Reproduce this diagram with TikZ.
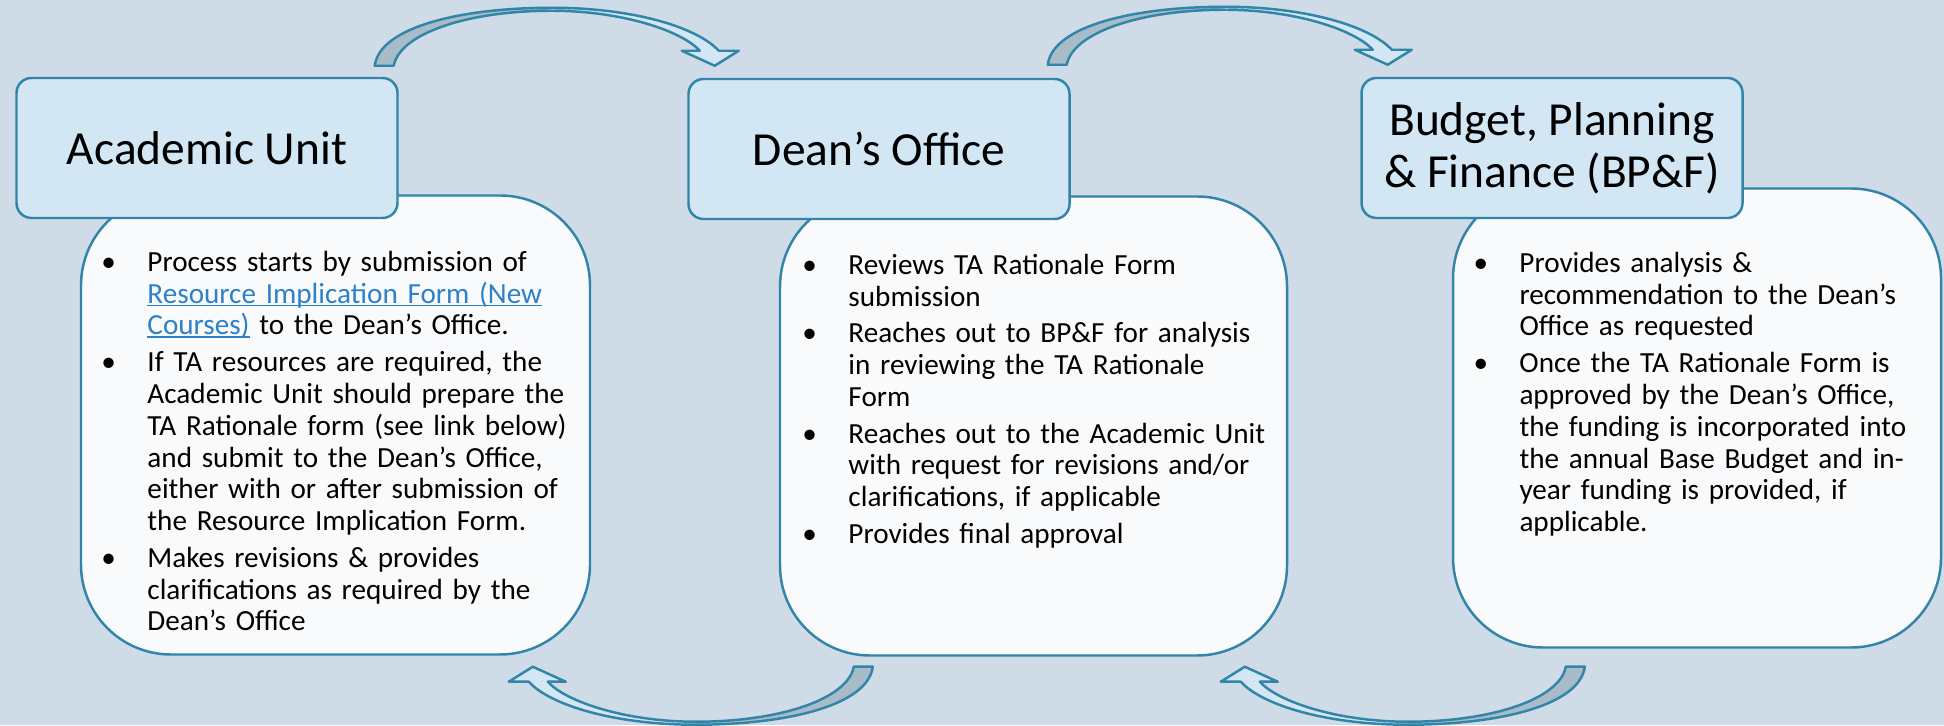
\documentclass[tikz,border=0pt]{standalone}
\usepackage{fontspec}
\setmainfont{Carlito}
\usetikzlibrary{calc}

\definecolor{sky}{RGB}{207,219,230}
\definecolor{capfill}{RGB}{210,230,244}
\definecolor{rim}{RGB}{49,133,168}
\definecolor{paper}{RGB}{249,250,252}
\definecolor{fold}{RGB}{168,187,200}
\definecolor{linkblue}{RGB}{46,128,200}

\newcommand\bitem{\noindent\hangindent=0.46cm\hangafter=1\makebox[0.46cm][l]{\textbullet}}
\newcommand\bgap{\par\vspace{1.4pt}}
\newcommand\lnk[1]{\textcolor{linkblue}{\setbox0=\hbox{#1}\rlap{\rule[-0.8pt]{\wd0}{0.35pt}}#1}}

\begin{document}
\begin{tikzpicture}[
  x=1cm, y=1cm,
  hdr/.style={draw=rim, fill=capfill, line width=0.7pt, rounded corners=0.15cm,
              minimum width=3.81cm, minimum height=1.40cm, inner sep=0pt,
              align=center, font=\fontsize{13.5}{14.8}\selectfont},
  bodybox/.style={draw=rim, fill=paper, line width=0.7pt, rounded corners=0.9cm,
                  minimum height=4.59cm, inner sep=0pt},
  txt/.style={anchor=base west, inner sep=0pt, text width=5cm, align=left,
              font=\fontsize{8.3}{9.05}\selectfont},
  ribbon/.pic={
    \fill[fold] (-0.19,0) .. controls (-0.14,0.39) and (0.68,0.58) .. (1.58,0.58)
      -- (1.58,0.55) .. controls (0.73,0.55) and (0.06,0.32) .. (0,0) -- cycle;
    \fill[capfill] (1.58,0.58) .. controls (2.38,0.58) and (3.03,0.39) .. (3.25,0.15)
      -- (3.45,0.15) -- (3.21,0) -- (2.88,0.15) -- (3.06,0.15)
      .. controls (2.88,0.35) and (2.28,0.55) .. (1.58,0.55) -- cycle;
    \draw[rim, line width=0.7pt, line join=round]
      (-0.19,0) .. controls (-0.14,0.39) and (0.68,0.58) .. (1.58,0.58)
      .. controls (2.38,0.58) and (3.03,0.39) .. (3.25,0.15)
      -- (3.45,0.15) -- (3.21,0) -- (2.88,0.15) -- (3.06,0.15)
      .. controls (2.88,0.35) and (2.28,0.55) .. (1.58,0.55)
      .. controls (0.73,0.55) and (0.06,0.32) .. (0,0) -- cycle;
  }
]

\fill[sky] (0,0) rectangle (19.44,7.25);
\useasboundingbox (0,0) rectangle (19.44,7.25);

% ---------------- bodies ----------------
\node[bodybox, minimum width=5.09cm] (aubody) at (3.355,3.00) {};
\node[bodybox, minimum width=5.07cm] (deanbody) at (10.335,2.99) {};
\node[bodybox, minimum width=4.88cm] (bpfbody) at (16.97,3.07) {};

\node[txt] (autext) at ([shift={(0.21,-0.77)}]aubody.north west) {%
  \bitem Process starts by submission of\newline
    \lnk{Resource Implication Form (New}\newline
    \lnk{Courses)} to the Dean's Office.
  \bgap\bitem If TA resources are required, the\newline
    Academic Unit should prepare the\newline
    TA Rationale form (see link below)\newline
    and submit to the Dean's Office,\newline
    either with or after submission of\newline
    the Resource Implication Form.
  \bgap\bitem Makes revisions \& provides\newline
    clarifications as required by the\newline
    Dean's Office\par};

\node[txt] (deantext) at ([shift={(0.23,-0.79)}]deanbody.north west) {%
  \bitem Reviews TA Rationale Form\newline
    submission
  \bgap\bitem Reaches out to BP\&F for analysis\newline
    in reviewing the TA Rationale\newline
    Form
  \bgap\bitem Reaches out to the Academic Unit\newline
    with request for revisions and/or\newline
    clarifications, if applicable
  \bgap\bitem Provides final approval\par};

\node[txt] (bpftext) at ([shift={(0.21,-0.85)}]bpfbody.north west) {%
  \bitem Provides analysis \&\newline
    recommendation to the Dean's\newline
    Office as requested
  \bgap\bitem Once the TA Rationale Form is\newline
    approved by the Dean's Office,\newline
    the funding is incorporated into\newline
    the annual Base Budget and in-\newline
    year funding is provided, if\newline
    applicable.\par};

% ---------------- headers ----------------
\node[hdr] (au) at (2.07,5.77) {Academic Unit};
\node[hdr] (dean) at (8.79,5.76) {Dean's Office};
\node[hdr] (bpf) at (15.52,5.77) {Budget, Planning\\\& Finance (BP\&F)};

% ---------------- curved arrows ----------------
\pic at ([shift={(-0.05,0.11)}]au.north east) {ribbon};
\pic at ([shift={(-0.04,0.13)}]dean.north east) {ribbon};
\pic[rotate=180] at ([shift={(0.75,-0.10)}]deanbody.south west) {ribbon};
\pic[rotate=180] at ([shift={(1.14,-0.18)}]bpfbody.south west) {ribbon};

\end{tikzpicture}
\end{document}
